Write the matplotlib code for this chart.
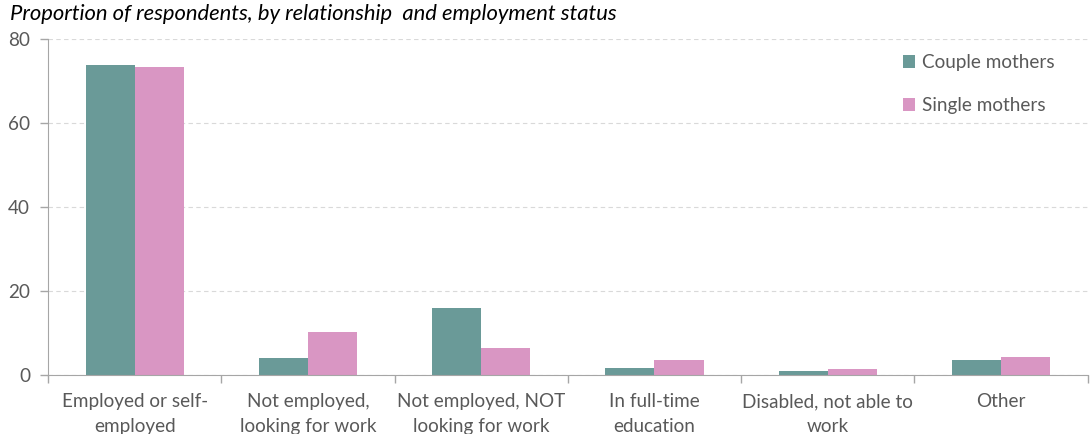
import matplotlib
matplotlib.use('Agg')
import matplotlib.pyplot as plt
import numpy as np

plt.rcParams['font.family'] = ['Lato', 'DejaVu Sans']

# 資料
categories = ['Employed or self-\nemployed', 'Not employed,\nlooking for work',
              'Not employed, NOT\nlooking for work', 'In full-time\neducation',
              'Disabled, not able to\nwork', 'Other']
couple = [73.8, 4.1, 15.9, 1.6, 0.9, 3.5]
single = [73.3, 10.2, 6.5, 3.6, 1.5, 4.4]

teal = '#6a9a98'
pink = '#d996c3'
grey = '#595959'

fig = plt.figure(figsize=(10.92, 4.34), dpi=100)
ax = fig.add_axes([0.044, 0.136, 0.952, 0.774])

x = np.arange(len(categories))
w = 0.283
ax.bar(x - w / 2, couple, w, color=teal, label='Couple mothers')
ax.bar(x + w / 2, single, w, color=pink, label='Single mothers')

ax.set_xlim(-0.5, len(categories) - 0.5)
ax.set_ylim(0, 80)
ax.set_yticks([0, 20, 40, 60, 80])
ax.yaxis.grid(True, linestyle=(0, (4, 3)), color='#d9d9d9', linewidth=0.8)
ax.set_axisbelow(True)

# x 軸：分類標籤在中間，刻度在邊界
ax.set_xticks(x)
ax.set_xticklabels(categories, fontsize=13.6, color=grey, linespacing=1.6)
ax.tick_params(axis='x', length=0, pad=13)
ax.set_xticks(np.arange(len(categories) + 1) - 0.5, minor=True)
ax.tick_params(axis='x', which='minor', length=6, color='#a6a6a6', width=1)
ax.tick_params(axis='y', labelsize=13.6, labelcolor=grey, length=6,
               color='#a6a6a6', width=1, pad=7)

for s in ['top', 'right']:
    ax.spines[s].set_visible(False)
ax.spines['left'].set_color('#a6a6a6')
ax.spines['bottom'].set_color('#a6a6a6')

leg = ax.legend(loc='upper right', bbox_to_anchor=(0.985, 1.005), frameon=False,
                fontsize=13.6, labelspacing=1.35, handlelength=0.65,
                handleheight=0.65, handletextpad=0.4)
for t in leg.get_texts():
    t.set_color(grey)

fig.text(0.009, 0.968, 'Proportion of respondents, by relationship  and employment status',
         fontsize=15.8, style='italic', color='#000000', va='center')

fig.savefig('out.png', dpi=100)
